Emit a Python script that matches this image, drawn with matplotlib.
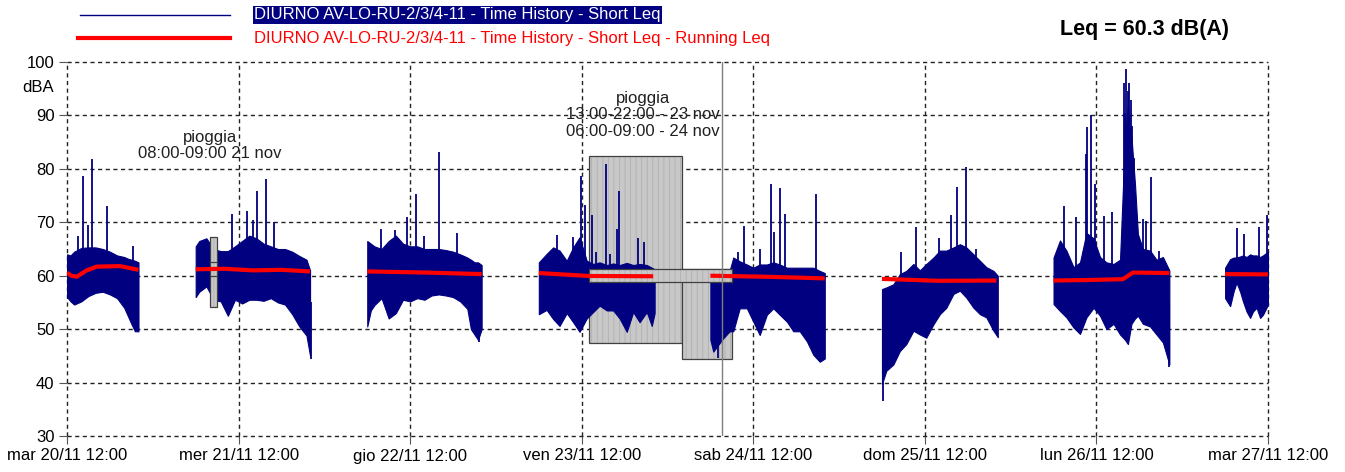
import numpy as np
import matplotlib
matplotlib.use("Agg")
import matplotlib.pyplot as plt
from matplotlib.patches import Rectangle
from matplotlib.lines import Line2D

plt.rcParams['font.family'] = ['Liberation Sans', 'DejaVu Sans']
plt.rcParams['hatch.linewidth'] = 0.6

# x = hours from 20/11 00:00
tick_hours = [12, 36, 60, 84, 108, 132, 156, 180]
tick_labels = ['mar 20/11 12:00', 'mer 21/11 12:00', 'gio 22/11 12:00', 'ven 23/11 12:00',
               'sab 24/11 12:00', 'dom 25/11 12:00', 'lun 26/11 12:00', 'mar 27/11 12:00']

# blue time history, per day: time, lower / upper edge of the dense trace
d20_h = [12.0, 12.5, 13.0, 14.0, 15.0, 16.0, 17.0, 18.0, 19.0, 20.0, 20.5, 21.0, 21.5, 22.0]
d20_hi = [64.0, 63.8, 64.5, 65.2, 65.3, 65.3, 65.0, 64.5, 63.8, 63.5, 63.2, 63.0, 62.8, 62.5]
d20_lo = [56.0, 55.2, 54.6, 55.2, 56.2, 56.8, 57.0, 56.5, 55.8, 54.0, 52.5, 51.0, 49.6, 49.6]

d21_h = [30.0, 30.5, 31.5, 32.5, 33.5, 34.5, 35.5, 36.5, 37.5, 38.5, 39.5, 40.5, 41.5, 42.5, 43.5, 44.5, 45.5, 46.0]
d21_hi = [65.5, 66.5, 67.0, 65.0, 64.6, 64.6, 65.5, 66.5, 67.5, 67.0, 66.0, 65.5, 65.0, 65.0, 64.5, 63.7, 63.0, 61.0]
d21_lo = [56.0, 57.0, 58.0, 55.5, 55.2, 52.5, 55.5, 54.8, 55.5, 55.5, 55.3, 55.8, 55.0, 54.6, 52.8, 50.5, 48.8, 45.0]

d22_h = [54.0, 54.5, 55.0, 56.0, 57.0, 58.0, 59.0, 60.0, 61.0, 62.0, 63.0, 64.0, 65.0, 66.0, 67.0, 68.0, 68.5, 69.0, 69.5, 70.0]
d22_hi = [66.5, 66.0, 65.5, 65.0, 66.5, 67.5, 66.0, 65.5, 65.5, 65.0, 65.0, 65.0, 64.8, 64.5, 64.0, 63.4, 63.0, 62.5, 62.5, 62.0]
d22_lo = [50.5, 53.5, 54.5, 55.8, 52.0, 53.0, 55.5, 55.2, 55.8, 55.5, 56.3, 56.5, 56.3, 56.0, 55.2, 53.8, 50.0, 49.0, 48.0, 50.0]

d23_h = [78.0, 79.1, 80.0, 80.9, 81.9, 82.8, 83.7, 84.7, 85.6, 86.5, 87.5, 88.4, 89.3, 90.3, 91.2, 92.1, 93.1, 93.8, 94.2]
d23_hi = [62.5, 64.1, 65.3, 64.7, 62.8, 65.3, 67.2, 62.8, 62.2, 62.5, 62.0, 62.3, 62.0, 62.4, 62.0, 62.2, 62.0, 61.5, 61.2]
d23_lo = [52.8, 53.6, 51.9, 50.6, 53.0, 51.3, 49.5, 52.0, 53.2, 54.4, 53.5, 53.5, 52.0, 49.5, 53.2, 51.3, 53.2, 50.6, 53.0]

d24_h = [102.0, 102.4, 103.8, 104.7, 105.2, 106.1, 107.1, 108.0, 108.9, 109.9, 110.8, 111.7, 112.7, 113.6, 114.5, 115.5, 116.4, 117.3, 118.0]
d24_hi = [60.5, 61.0, 61.0, 61.0, 63.4, 62.7, 62.1, 61.5, 62.1, 62.1, 62.5, 62.1, 61.5, 61.5, 61.5, 61.5, 61.5, 60.9, 60.5]
d24_lo = [48.0, 45.8, 48.3, 49.6, 49.6, 53.9, 53.9, 51.4, 48.9, 52.7, 53.9, 52.7, 51.4, 49.6, 49.6, 47.7, 45.2, 43.9, 44.5]

d25_h = [126.0, 126.6, 127.6, 128.5, 129.4, 130.4, 131.3, 132.2, 133.2, 134.1, 135.0, 136.0, 136.9, 137.8, 138.8, 139.7, 140.6, 141.6, 142.2]
d25_hi = [57.5, 57.8, 58.4, 60.3, 60.9, 62.2, 61.0, 62.2, 63.4, 64.7, 64.7, 65.3, 65.9, 65.3, 64.0, 62.8, 61.6, 60.9, 60.0]
d25_lo = [39.7, 42.2, 43.4, 45.9, 47.2, 49.7, 49.0, 48.4, 50.9, 52.8, 54.0, 56.6, 57.2, 55.9, 54.0, 52.8, 52.2, 49.7, 48.5]

d26_h = [150.0, 150.9, 151.8, 152.8, 153.7, 154.6, 155.6, 156.5, 157.4, 158.4, 159.3, 160.0, 160.4, 160.9, 161.4, 161.8, 162.5, 163.5, 164.4, 165.3, 166.2]
d26_hi = [63.4, 66.6, 64.7, 61.6, 62.5, 68.0, 67.0, 63.5, 62.5, 62.2, 63.0, 86.0, 92.0, 86.0, 77.0, 67.8, 65.0, 64.7, 63.0, 63.5, 61.0]
d26_lo = [54.7, 53.4, 52.2, 50.3, 49.1, 52.2, 54.0, 52.5, 50.0, 51.0, 49.0, 48.0, 47.2, 51.0, 52.0, 52.5, 51.0, 50.5, 49.0, 47.5, 43.4]

d27_h = [174.0, 174.7, 175.2, 175.6, 176.1, 176.5, 177.0, 177.5, 177.9, 178.4, 178.9, 179.3, 180.0]
d27_hi = [61.5, 63.1, 63.4, 63.4, 63.6, 63.8, 63.5, 64.0, 63.8, 63.8, 63.5, 63.8, 64.5]
d27_lo = [55.8, 54.3, 57.1, 58.7, 57.0, 55.2, 53.3, 52.1, 53.3, 54.0, 52.1, 52.7, 54.6]

# isolated peaks of the short Leq
peak_h = [13.5, 14.2, 15.0, 15.45, 17.55, 21.3,
          33.0, 35.1, 37.2, 38.0, 38.6, 39.9, 41.0,
          55.9, 57.9, 59.5, 60.8, 62.0, 64.1, 66.6,
          80.5, 82.8, 83.9, 84.4, 85.4, 86.0, 87.4, 88.0, 89.0, 89.2, 91.9, 92.7,
          105.8, 106.7, 109.0, 110.5, 110.9, 111.7, 112.4, 116.8,
          128.6, 130.7, 134.0, 135.7, 136.5, 137.7, 139.2,
          151.4, 153.2, 154.5, 154.7, 155.2, 155.85, 157.0, 158.2, 159.8, 159.95, 160.2, 160.4,
          160.6, 160.8, 161.0, 161.2, 162.5, 162.9, 163.7, 164.7,
          175.6, 176.7, 178.7, 179.9]
peak_db = [67.5, 78.7, 69.5, 81.9, 73.1, 65.5,
           66.5, 71.5, 72.2, 70.5, 75.9, 78.1, 70.0,
           68.7, 68.5, 70.9, 75.3, 67.5, 83.1, 68.0,
           67.6, 67.3, 78.6, 73.2, 71.4, 64.5, 81.0, 64.0, 68.8, 75.9, 67.0, 66.3,
           64.5, 69.3, 65.0, 77.2, 68.1, 76.5, 71.5, 75.3,
           64.4, 69.2, 67.0, 71.3, 76.6, 80.4, 65.0,
           73.1, 70.9, 82.8, 87.8, 90.0, 77.2, 71.2, 71.9, 96.0, 90.5, 98.7, 94.5,
           96.0, 92.8, 88.0, 82.0, 70.6, 70.3, 78.4, 64.7,
           69.0, 67.8, 69.2, 71.3]
dip_h = [46.1, 126.2, 166.1, 103.0, 69.6]
dip_db = [44.5, 36.6, 43.0, 44.6, 47.5]

# running Leq (red)
run20_h = [12.0, 12.6, 13.35, 14.75, 16.15, 19.4, 22.0]
run20_db = [60.6, 60.0, 59.8, 61.0, 61.7, 61.8, 61.1]
run21_h = [30.0, 34.0, 38.0, 42.0, 46.0]
run21_db = [61.2, 61.3, 61.0, 61.1, 60.8]
run22_h = [54.0, 62.0, 70.0]
run22_db = [60.8, 60.6, 60.3]
run23_h = [78.0, 85.0, 94.0]
run23_db = [60.5, 59.95, 59.9]
run24_h = [102.0, 110.0, 118.0]
run24_db = [60.0, 59.8, 59.5]
run25_h = [126.0, 134.0, 142.0]
run25_db = [59.4, 59.05, 59.1]
run26_h = [150.0, 155.0, 159.7, 161.1, 166.2]
run26_db = [59.1, 59.2, 59.35, 60.6, 60.5]
run27_h = [174.0, 180.0]
run27_db = [60.3, 60.25]

# rain boxes: start, end, min, max
rain_boxes = [(85.0, 98.0, 47.5, 82.4), (98.0, 105.0, 44.5, 61.2)]
rain_small = (32.0, 33.0, 54.2, 67.3)
rain_bands = [(32.0, 33.0, 60.0, 62.6), (85.0, 105.0, 58.8, 61.2)]
cursor_h = 103.6

navy = '#000080'
fig = plt.figure(figsize=(13.45, 4.72), dpi=100)
ax = fig.add_axes([67 / 1345, 1 - 436 / 472, 1201 / 1345, 374 / 472])


def box(x0, x1, y0, y1, z):
    ax.add_patch(Rectangle((x0, y0), x1 - x0, y1 - y0, facecolor='#c8c8c8',
                           hatch='|||', edgecolor='#b0b0b0', lw=0, zorder=z))
    ax.add_patch(Rectangle((x0, y0), x1 - x0, y1 - y0, fill=False,
                           edgecolor='#404040', lw=0.9, zorder=z))


for b in rain_boxes:
    box(*b, z=1)

days = [(d20_h, d20_lo, d20_hi), (d21_h, d21_lo, d21_hi), (d22_h, d22_lo, d22_hi),
        (d23_h, d23_lo, d23_hi), (d24_h, d24_lo, d24_hi), (d25_h, d25_lo, d25_hi),
        (d26_h, d26_lo, d26_hi), (d27_h, d27_lo, d27_hi)]
for h, lo, hi in days:
    ax.fill_between(h, lo, hi, color=navy, lw=0.8, zorder=2)

ax.vlines(peak_h, 60, peak_db, color=navy, lw=1.3, zorder=2)
ax.vlines(dip_h, 55, dip_db, color=navy, lw=1.3, zorder=2)

box(*rain_small, z=3)
for b in rain_bands:
    box(*b, z=3)

runs = [(run20_h, run20_db), (run21_h, run21_db), (run22_h, run22_db), (run23_h, run23_db),
        (run24_h, run24_db), (run25_h, run25_db), (run26_h, run26_db), (run27_h, run27_db)]
for h, v in runs:
    ax.plot(h, v, color='red', lw=3, zorder=4, solid_capstyle='butt')

ax.axvline(cursor_h, color='#7f7f7f', lw=1, zorder=5)

ax.text(32.0, 84.4, 'pioggia\n08:00-09:00 21 nov', ha='center', va='center',
        fontsize=12, linespacing=1.1, color='#202020', zorder=6)
ax.text(92.6, 90.1, 'pioggia\n13:00-22:00 - 23 nov\n06:00-09:00 - 24 nov', ha='center', va='center',
        fontsize=12, linespacing=1.1, color='#202020', zorder=6)

ax.set_xlim(12, 180)
ax.set_ylim(30, 100)
ax.set_xticks(tick_hours)
ax.set_xticklabels(tick_labels)
ax.set_yticks(range(30, 101, 10))
for s in ax.spines.values():
    s.set_visible(False)
ax.grid(True, color='#222222', linestyle=(0, (3, 2.5)), lw=1)
ax.set_axisbelow(True)
ax.tick_params(axis='both', labelsize=12, length=6, color='#555555', pad=3)
for gl in ax.get_xgridlines() + ax.get_ygridlines():
    gl.set_clip_on(False)

fig.text(38 / 1345, 1 - 88 / 472, 'dBA', ha='center', va='center', fontsize=12)

fig.add_artist(Line2D([80 / 1345, 230 / 1345], [1 - 15 / 472] * 2, color=navy, lw=1))
fig.add_artist(Line2D([78 / 1345, 230 / 1345], [1 - 38 / 472] * 2, color='red', lw=3))
fig.text(254 / 1345, 1 - 15 / 472, 'DIURNO AV-LO-RU-2/3/4-11 - Time History - Short Leq',
         ha='left', va='center', fontsize=12, color='white',
         bbox=dict(facecolor=navy, edgecolor='none', pad=1))
fig.text(254 / 1345, 1 - 38 / 472, 'DIURNO AV-LO-RU-2/3/4-11 - Time History - Short Leq - Running Leq',
         ha='left', va='center', fontsize=12, color='red')
fig.text(1145 / 1345, 1 - 29 / 472, 'Leq = 60.3 dB(A)', ha='center', va='center',
         fontsize=15.5, fontweight='bold')

fig.savefig('out.png', dpi=100)
